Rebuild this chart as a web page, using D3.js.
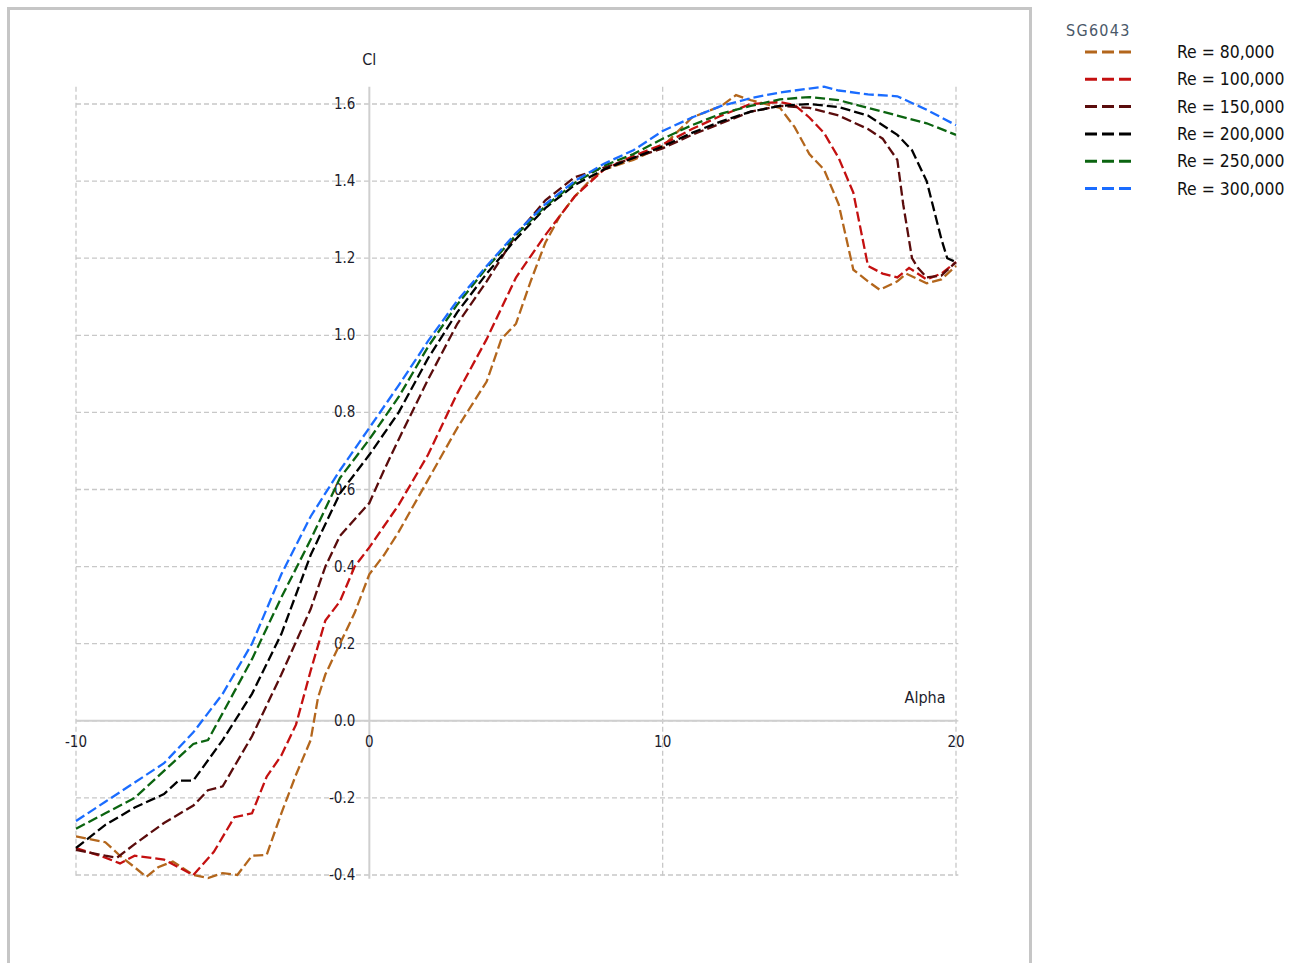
<!DOCTYPE html>
<html>
<head>
<meta charset="utf-8">
<script src="https://cdn.jsdelivr.net/npm/d3@7"></script>
<style>
  body { margin: 0; background: #fff; }
  svg { display: block; }
  text { font-family: "DejaVu Sans Condensed", "Liberation Sans Narrow", sans-serif; }
</style>
</head>
<body>
<svg width="1295" height="963"></svg>
<script>
// polar data: [alpha, Cl]
const re80 = [[-10,-0.30],[-9,-0.315],[-8.5,-0.35],[-8,-0.38],[-7.6,-0.405],[-7.2,-0.38],[-6.7,-0.365],[-6,-0.40],[-5.5,-0.408],[-5,-0.395],[-4.5,-0.40],[-4,-0.35],[-3.5,-0.348],[-3,-0.24],[-2.5,-0.14],[-2,-0.05],[-1.75,0.06],[-1.5,0.12],[-1,0.20],[-0.5,0.28],[0,0.38],[0.5,0.43],[1,0.49],[2,0.625],[3,0.76],[3.5,0.82],[4,0.88],[4.5,0.99],[5,1.03],[5.5,1.14],[6,1.24],[6.5,1.31],[7,1.36],[7.5,1.40],[8,1.43],[9,1.455],[10,1.49],[11,1.565],[12,1.595],[12.5,1.623],[13,1.61],[14,1.59],[14.5,1.54],[15,1.47],[15.5,1.43],[16,1.34],[16.5,1.17],[17,1.14],[17.4,1.118],[18,1.14],[18.3,1.16],[19,1.135],[19.5,1.145],[20,1.18]];
const re100 = [[-10,-0.33],[-9,-0.355],[-8.5,-0.37],[-8,-0.35],[-7,-0.36],[-6,-0.40],[-5.3,-0.34],[-4.6,-0.25],[-4,-0.24],[-3.5,-0.145],[-3,-0.09],[-2.5,-0.01],[-2,0.13],[-1.5,0.26],[-1,0.31],[-0.5,0.40],[0,0.45],[1,0.56],[2,0.69],[3,0.85],[4,0.99],[5,1.15],[6,1.26],[7,1.36],[8,1.43],[9,1.465],[10,1.495],[11,1.535],[12,1.57],[13,1.60],[14,1.605],[14.5,1.597],[15,1.565],[15.5,1.525],[16,1.46],[16.5,1.37],[17,1.18],[17.5,1.16],[18,1.15],[18.4,1.175],[19,1.145],[19.5,1.16],[20,1.19]];
const re150 = [[-10,-0.335],[-9,-0.35],[-8.6,-0.355],[-8,-0.32],[-7,-0.265],[-6,-0.22],[-5.5,-0.18],[-5,-0.17],[-4,-0.04],[-3,0.12],[-2,0.29],[-1.5,0.40],[-1,0.48],[0,0.565],[0.5,0.65],[1,0.73],[2,0.885],[3,1.03],[4,1.14],[5,1.26],[6,1.35],[7,1.41],[8,1.435],[9,1.46],[10,1.485],[11,1.52],[12,1.55],[13,1.58],[14,1.595],[15,1.59],[16,1.57],[17,1.535],[17.5,1.51],[18,1.455],[18.2,1.34],[18.5,1.20],[18.7,1.175],[19,1.15],[19.5,1.155],[20,1.19]];
const re200 = [[-10,-0.33],[-9,-0.27],[-8,-0.225],[-7,-0.19],[-6.5,-0.155],[-6,-0.155],[-5,-0.05],[-4,0.07],[-3,0.225],[-2,0.43],[-1,0.59],[0,0.69],[1,0.80],[2,0.94],[3,1.06],[4,1.16],[5,1.25],[6,1.33],[7,1.39],[8,1.43],[9,1.46],[10,1.49],[11,1.525],[12,1.555],[13,1.58],[14,1.595],[15,1.60],[16,1.592],[17,1.57],[18,1.52],[18.5,1.48],[19,1.40],[19.5,1.25],[19.7,1.20],[20,1.19]];
const re250 = [[-10,-0.28],[-9,-0.24],[-8,-0.20],[-7,-0.13],[-6,-0.06],[-5.5,-0.05],[-5,0.02],[-4,0.16],[-3,0.32],[-2,0.47],[-1,0.63],[0,0.73],[1,0.84],[2,0.97],[3,1.08],[4,1.175],[5,1.26],[6,1.335],[7,1.395],[8,1.44],[9,1.47],[10,1.51],[11,1.545],[12,1.575],[13,1.595],[14,1.612],[15,1.618],[16,1.61],[17,1.59],[18,1.57],[19,1.55],[20,1.52]];
const re300 = [[-10,-0.26],[-9,-0.21],[-8,-0.16],[-7,-0.11],[-6,-0.03],[-5,0.07],[-4,0.20],[-3,0.38],[-2,0.53],[-1,0.65],[0,0.76],[1,0.87],[2,0.985],[3,1.09],[4,1.18],[5,1.265],[6,1.34],[7,1.40],[8,1.445],[9,1.48],[10,1.53],[11,1.565],[12,1.595],[13,1.615],[14,1.63],[15,1.64],[15.5,1.645],[16,1.635],[17,1.625],[18,1.62],[19,1.585],[20,1.545]];

const seriesNames = ["Re = 80,000", "Re = 100,000", "Re = 150,000", "Re = 200,000", "Re = 250,000", "Re = 300,000"];
const seriesData = [re80, re100, re150, re200, re250, re300];
const seriesColors = ["#b3661c", "#c41010", "#5a0c0c", "#000000", "#0b6410", "#1a6cff"];

const xTicks = [-10, 0, 10, 20];
const yTicks = [-0.4, -0.2, 0, 0.2, 0.4, 0.6, 0.8, 1.0, 1.2, 1.4, 1.6];

const svg = d3.select("svg");

// outer frame of the graph panel
svg.append("rect")
  .attr("x", 8.5).attr("y", 8.5)
  .attr("width", 1022).attr("height", 970)
  .attr("fill", "none")
  .attr("stroke", "#c6c6c6")
  .attr("stroke-width", 3);

const x = d3.scaleLinear().domain([-10, 20]).range([76, 956]);
const y = d3.scaleLinear().domain([-0.4, 1.6]).range([875, 104]);

const grid = svg.append("g")
  .attr("stroke", "#c8c8c8")
  .attr("stroke-width", 1.3)
  .attr("stroke-dasharray", "5,3");

grid.selectAll("line.h")
  .data(yTicks)
  .join("line")
  .attr("class", "h")
  .attr("x1", x(-10)).attr("x2", x(20.08))
  .attr("y1", d => y(d)).attr("y2", d => y(d));

grid.selectAll("line.v")
  .data(xTicks.filter(d => d !== 0))
  .join("line")
  .attr("class", "v")
  .attr("x1", d => x(d)).attr("x2", d => x(d))
  .attr("y1", y(1.645)).attr("y2", y(-0.41));

// main axes through zero
svg.append("line")
  .attr("x1", x(-10)).attr("x2", x(20))
  .attr("y1", y(0)).attr("y2", y(0))
  .attr("stroke", "#cfcfcf").attr("stroke-width", 2);
svg.append("line")
  .attr("x1", x(0)).attr("x2", x(0))
  .attr("y1", y(1.645)).attr("y2", y(-0.41))
  .attr("stroke", "#cfcfcf").attr("stroke-width", 2);

const fmt = d3.format(".1f");

svg.append("g").selectAll("text")
  .data(yTicks)
  .join("text")
  .attr("x", x(0) - 14)
  .attr("y", d => y(d) + 5)
  .attr("text-anchor", "end")
  .attr("font-size", 15)
  .attr("fill", "#1c1c2c")
  .text(d => fmt(d).replace("\u2212", "-"));

svg.append("g").selectAll("text")
  .data(xTicks)
  .join("text")
  .attr("x", d => x(d))
  .attr("y", y(0) + 26)
  .attr("text-anchor", "middle")
  .attr("font-size", 15)
  .attr("fill", "#1c1c2c")
  .text(d => d);

svg.append("text")
  .attr("x", x(0)).attr("y", 65)
  .attr("text-anchor", "middle")
  .attr("font-size", 16)
  .attr("fill", "#1c1c2c")
  .text("Cl");

svg.append("text")
  .attr("x", 925).attr("y", 703)
  .attr("text-anchor", "middle")
  .attr("font-size", 16)
  .attr("fill", "#1c1c2c")
  .text("Alpha");

const line = d3.line()
  .x(d => x(d[0]))
  .y(d => y(d[1]));

svg.append("g").selectAll("path")
  .data(seriesData)
  .join("path")
  .attr("d", line)
  .attr("fill", "none")
  .attr("stroke", (d, i) => seriesColors[i])
  .attr("stroke-width", 2.3)
  .attr("stroke-dasharray", "10,4");

// legend
const legend = svg.append("g");
legend.append("text")
  .attr("x", 1066).attr("y", 36)
  .attr("font-family", "DejaVu Sans Mono, monospace")
  .attr("font-size", 16)
  .attr("letter-spacing", 1.3)
  .attr("fill", "#4a5868")
  .text("SG6043");

const rows = legend.selectAll("g.row")
  .data(seriesNames)
  .join("g")
  .attr("class", "row")
  .attr("transform", (d, i) => `translate(0, ${52 + i * 27.3})`);

rows.append("line")
  .attr("x1", 1085).attr("x2", 1131)
  .attr("y1", 0).attr("y2", 0)
  .attr("stroke", (d, i) => seriesColors[i])
  .attr("stroke-width", 3)
  .attr("stroke-dasharray", "12,5");

rows.append("text")
  .attr("x", 1177).attr("y", 6)
  .attr("font-size", 17.4)
  .attr("fill", "#111")
  .text(d => d);
</script>
</body>
</html>
